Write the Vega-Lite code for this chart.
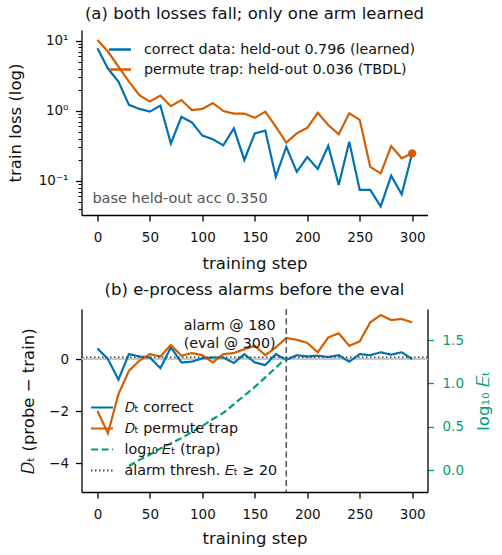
{
  "$schema": "https://vega.github.io/schema/vega-lite/v6.json",
  "background": "white",
  "padding": {"left": 7.5, "top": 5, "right": 5, "bottom": 5},
  "config": {
    "font": "DejaVu Sans",
    "view": {"stroke": null},
    "axis": {
      "grid": false, "domainColor": "#000", "domainWidth": 1.3,
      "tickColor": "#000", "tickWidth": 1.3, "tickSize": 6,
      "labelFont": "DejaVu Sans", "labelFontSize": 13.5, "labelColor": "#111",
      "labelFlush": false, "labelOverlap": false,
      "titleFont": "DejaVu Sans", "titleFontSize": 16.5, "titleFontWeight": "normal", "titleColor": "#111"
    },
    "title": {"font": "DejaVu Sans", "fontSize": 16.5, "fontWeight": "normal", "color": "#111", "anchor": "middle"},
    "legend": {"labelFont": "DejaVu Sans", "labelFontSize": 14.3, "labelColor": "#111", "padding": 0, "labelLimit": 400}
  },
  "spacing": 9,
  "resolve": {"scale": {"color": "independent", "strokeDash": "independent"}},
  "vconcat": [
    {
      "width": 346,
      "height": 185,
      "title": {"text": "(a) both losses fall; only one arm learned", "offset": 8},
      "data": {"values": [
        {"step": 0, "run": "c", "loss": 7.8}, {"step": 10, "run": "c", "loss": 4.0}, {"step": 20, "run": "c", "loss": 2.6},
        {"step": 30, "run": "c", "loss": 1.21}, {"step": 40, "run": "c", "loss": 1.06}, {"step": 50, "run": "c", "loss": 0.97},
        {"step": 60, "run": "c", "loss": 1.18}, {"step": 70, "run": "c", "loss": 0.34}, {"step": 80, "run": "c", "loss": 0.82},
        {"step": 90, "run": "c", "loss": 0.68}, {"step": 100, "run": "c", "loss": 0.44}, {"step": 110, "run": "c", "loss": 0.39},
        {"step": 120, "run": "c", "loss": 0.32}, {"step": 130, "run": "c", "loss": 0.56}, {"step": 140, "run": "c", "loss": 0.198},
        {"step": 150, "run": "c", "loss": 0.475}, {"step": 160, "run": "c", "loss": 0.52}, {"step": 170, "run": "c", "loss": 0.114},
        {"step": 180, "run": "c", "loss": 0.306}, {"step": 190, "run": "c", "loss": 0.134}, {"step": 200, "run": "c", "loss": 0.218},
        {"step": 210, "run": "c", "loss": 0.147}, {"step": 220, "run": "c", "loss": 0.316}, {"step": 230, "run": "c", "loss": 0.087},
        {"step": 240, "run": "c", "loss": 0.36}, {"step": 250, "run": "c", "loss": 0.074}, {"step": 260, "run": "c", "loss": 0.074},
        {"step": 270, "run": "c", "loss": 0.043}, {"step": 280, "run": "c", "loss": 0.118}, {"step": 290, "run": "c", "loss": 0.064},
        {"step": 300, "run": "c", "loss": 0.246},
        {"step": 0, "run": "t", "loss": 10.2}, {"step": 10, "run": "t", "loss": 7.0}, {"step": 20, "run": "t", "loss": 4.25},
        {"step": 30, "run": "t", "loss": 2.6}, {"step": 40, "run": "t", "loss": 1.67}, {"step": 50, "run": "t", "loss": 1.35},
        {"step": 60, "run": "t", "loss": 1.64}, {"step": 70, "run": "t", "loss": 1.16}, {"step": 80, "run": "t", "loss": 1.42},
        {"step": 90, "run": "t", "loss": 1.02}, {"step": 100, "run": "t", "loss": 1.06}, {"step": 110, "run": "t", "loss": 1.29},
        {"step": 120, "run": "t", "loss": 0.99}, {"step": 130, "run": "t", "loss": 0.91}, {"step": 140, "run": "t", "loss": 0.91},
        {"step": 150, "run": "t", "loss": 0.79}, {"step": 160, "run": "t", "loss": 0.97}, {"step": 170, "run": "t", "loss": 0.59},
        {"step": 180, "run": "t", "loss": 0.35}, {"step": 190, "run": "t", "loss": 0.475}, {"step": 200, "run": "t", "loss": 0.57},
        {"step": 210, "run": "t", "loss": 0.93}, {"step": 220, "run": "t", "loss": 0.625}, {"step": 230, "run": "t", "loss": 0.46},
        {"step": 240, "run": "t", "loss": 0.92}, {"step": 250, "run": "t", "loss": 0.74}, {"step": 260, "run": "t", "loss": 0.158},
        {"step": 270, "run": "t", "loss": 0.127}, {"step": 280, "run": "t", "loss": 0.313}, {"step": 290, "run": "t", "loss": 0.209},
        {"step": 300, "run": "t", "loss": 0.246}
      ]},
      "layer": [
        {
          "mark": {"type": "line", "strokeWidth": 2.2},
          "encoding": {
            "x": {"field": "step", "type": "quantitative",
                  "scale": {"domain": [-15.2, 314.6], "nice": false, "zero": false},
                  "axis": {"values": [0, 50, 100, 150, 200, 250, 300], "title": "training step", "labelPadding": 9, "titlePadding": 12}},
            "y": {"field": "loss", "type": "quantitative",
                  "scale": {"type": "log", "domain": [0.0324, 14.2], "nice": false},
                  "axis": {
                    "values": [0.04, 0.05, 0.06, 0.07, 0.08, 0.09, 0.1, 0.2, 0.3, 0.4, 0.5, 0.6, 0.7, 0.8, 0.9, 1, 2, 3, 4, 5, 6, 7, 8, 9, 10],
                    "labelExpr": "datum.value == 10 ? '10¹' : datum.value == 1 ? '10⁰' : datum.value == 0.1 ? '10⁻¹' : ''",
                    "tickSize": {"condition": {"test": "datum.value == 10 || datum.value == 1 || datum.value == 0.1", "value": 6}, "value": 3.5},
                    "tickWidth": {"condition": {"test": "datum.value == 10 || datum.value == 1 || datum.value == 0.1", "value": 1.3}, "value": 1},
                    "labelPadding": 7.5,
                    "title": "train loss (log)", "titlePadding": 14.5
                  }},
            "color": {"field": "run", "type": "nominal",
                      "scale": {"domain": ["c", "t"], "range": ["#0072B2", "#D55E00"]},
                      "legend": {
                        "orient": "none", "legendX": 26, "legendY": 7, "title": null,
                        "symbolType": "stroke", "symbolSize": 484, "symbolStrokeWidth": 2.5,
                        "labelOffset": 11.5, "rowPadding": -3,
                        "labelExpr": "datum.value == 'c' ? 'correct data: held-out 0.796 (learned)' : 'permute trap: held-out 0.036 (TBDL)'"
                      }}
          }
        },
        {
          "transform": [{"filter": "datum.run == 't' && datum.step == 300"}],
          "mark": {"type": "circle", "size": 70, "color": "#D55E00", "opacity": 1},
          "encoding": {
            "x": {"field": "step", "type": "quantitative"},
            "y": {"field": "loss", "type": "quantitative"}
          }
        },
        {
          "data": {"values": [{}]},
          "mark": {"type": "text", "align": "left", "baseline": "middle", "fontSize": 14.5, "color": "#555555"},
          "encoding": {
            "x": {"datum": -4.8, "type": "quantitative"},
            "y": {"datum": 0.0548, "type": "quantitative"},
            "text": {"value": "base held-out acc 0.350"}
          }
        }
      ]
    },
    {
      "width": 346,
      "height": 183,
      "title": {"text": "(b) e-process alarms before the eval", "offset": 10},
      "data": {"values": [
        {"step": 0, "series": "c", "D": 0.41}, {"step": 10, "series": "c", "D": 0.0}, {"step": 20, "series": "c", "D": -0.79},
        {"step": 30, "series": "c", "D": 0.19}, {"step": 40, "series": "c", "D": 0.10}, {"step": 50, "series": "c", "D": 0.06},
        {"step": 60, "series": "c", "D": -0.35}, {"step": 70, "series": "c", "D": 0.45}, {"step": 80, "series": "c", "D": -0.13},
        {"step": 90, "series": "c", "D": -0.10}, {"step": 100, "series": "c", "D": 0.03}, {"step": 110, "series": "c", "D": 0.06},
        {"step": 120, "series": "c", "D": 0.06}, {"step": 130, "series": "c", "D": -0.15}, {"step": 140, "series": "c", "D": 0.19},
        {"step": 150, "series": "c", "D": -0.13}, {"step": 160, "series": "c", "D": -0.23}, {"step": 170, "series": "c", "D": 0.19},
        {"step": 180, "series": "c", "D": -0.03}, {"step": 190, "series": "c", "D": 0.15}, {"step": 200, "series": "c", "D": 0.10},
        {"step": 210, "series": "c", "D": 0.13}, {"step": 220, "series": "c", "D": 0.08}, {"step": 230, "series": "c", "D": 0.15},
        {"step": 240, "series": "c", "D": -0.10}, {"step": 250, "series": "c", "D": 0.19}, {"step": 260, "series": "c", "D": 0.15},
        {"step": 270, "series": "c", "D": 0.26}, {"step": 280, "series": "c", "D": 0.17}, {"step": 290, "series": "c", "D": 0.26},
        {"step": 300, "series": "c", "D": 0.0},
        {"step": 0, "series": "t", "D": -1.99}, {"step": 10, "series": "t", "D": -2.85}, {"step": 20, "series": "t", "D": -1.35},
        {"step": 30, "series": "t", "D": -0.45}, {"step": 40, "series": "t", "D": -0.06}, {"step": 50, "series": "t", "D": 0.19},
        {"step": 60, "series": "t", "D": 0.10}, {"step": 70, "series": "t", "D": 0.54}, {"step": 80, "series": "t", "D": 0.13},
        {"step": 90, "series": "t", "D": 0.23}, {"step": 100, "series": "t", "D": 0.15}, {"step": 110, "series": "t", "D": -0.13},
        {"step": 120, "series": "t", "D": 0.19}, {"step": 130, "series": "t", "D": 0.23}, {"step": 140, "series": "t", "D": 0.38},
        {"step": 150, "series": "t", "D": 0.51}, {"step": 160, "series": "t", "D": 0.15}, {"step": 170, "series": "t", "D": 0.45},
        {"step": 180, "series": "t", "D": 0.81}, {"step": 190, "series": "t", "D": 0.74}, {"step": 200, "series": "t", "D": 0.62},
        {"step": 210, "series": "t", "D": 0.26}, {"step": 220, "series": "t", "D": 0.83}, {"step": 230, "series": "t", "D": 0.99},
        {"step": 240, "series": "t", "D": 0.51}, {"step": 250, "series": "t", "D": 0.68}, {"step": 260, "series": "t", "D": 1.41},
        {"step": 270, "series": "t", "D": 1.69}, {"step": 280, "series": "t", "D": 1.50}, {"step": 290, "series": "t", "D": 1.54},
        {"step": 300, "series": "t", "D": 1.41},
        {"step": 30, "series": "e", "logE": 0.05}, {"step": 40, "series": "e", "logE": 0.12}, {"step": 50, "series": "e", "logE": 0.18},
        {"step": 60, "series": "e", "logE": 0.25}, {"step": 70, "series": "e", "logE": 0.31}, {"step": 80, "series": "e", "logE": 0.37},
        {"step": 90, "series": "e", "logE": 0.44}, {"step": 100, "series": "e", "logE": 0.51}, {"step": 110, "series": "e", "logE": 0.59},
        {"step": 120, "series": "e", "logE": 0.66}, {"step": 130, "series": "e", "logE": 0.76}, {"step": 140, "series": "e", "logE": 0.86},
        {"step": 150, "series": "e", "logE": 0.96}, {"step": 160, "series": "e", "logE": 1.07}, {"step": 170, "series": "e", "logE": 1.18},
        {"step": 180, "series": "e", "logE": 1.30},
        {"series": "a", "logE": 1.30103}
      ]},
      "resolve": {"scale": {"y": "independent"}},
      "layer": [
        {
          "layer": [
            {
              "data": {"values": [{}]},
              "mark": {"type": "rule", "color": "#c8c8c8", "strokeWidth": 2},
              "encoding": {"y": {"datum": 0, "type": "quantitative"}}
            },
            {
              "transform": [{"filter": "datum.series == 'c' || datum.series == 't'"}],
              "mark": {"type": "line", "strokeWidth": 2.2},
              "encoding": {
                "x": {"field": "step", "type": "quantitative",
                      "scale": {"domain": [-15.2, 314.6], "nice": false, "zero": false},
                      "axis": {"values": [0, 50, 100, 150, 200, 250, 300], "title": "training step", "labelPadding": 9, "titlePadding": 10}},
                "y": {"field": "D", "type": "quantitative",
                      "scale": {"domain": [-5.104, 1.923], "nice": false, "zero": false},
                      "axis": {"values": [-4, -2, 0], "title": "𝐷ₜ (probe − train)", "labelPadding": 7, "titlePadding": 12}},
                "color": {"field": "series", "type": "nominal",
                          "scale": {"domain": ["c", "t", "e", "a"], "range": ["#0072B2", "#D55E00", "#009E73", "#444444"]},
                          "legend": {
                            "orient": "none", "legendX": 8, "legendY": 86, "title": null,
                            "symbolType": "stroke", "symbolSize": 484, "symbolStrokeWidth": 2.2,
                            "labelOffset": 10, "rowPadding": 1,
                            "labelExpr": "datum.value == 'c' ? '𝐷ₜ correct' : datum.value == 't' ? '𝐷ₜ permute trap' : datum.value == 'e' ? 'log₁₀ 𝐸ₜ (trap)' : 'alarm thresh. 𝐸ₜ ≥ 20'"
                          }},
                "strokeDash": {"field": "series", "type": "nominal",
                               "scale": {"domain": ["c", "t", "e", "a"], "range": [[1, 0], [1, 0], [7, 3.5], [1.5, 2.5]]},
                               "legend": {
                                 "orient": "none", "legendX": 8, "legendY": 86, "title": null,
                                 "symbolType": "stroke", "symbolSize": 484, "symbolStrokeWidth": 2.2,
                                 "labelOffset": 10, "rowPadding": 1,
                                 "labelExpr": "datum.value == 'c' ? '𝐷ₜ correct' : datum.value == 't' ? '𝐷ₜ permute trap' : datum.value == 'e' ? 'log₁₀ 𝐸ₜ (trap)' : 'alarm thresh. 𝐸ₜ ≥ 20'"
                               }}
              }
            },
            {
              "data": {"values": [{}]},
              "mark": {"type": "rule", "color": "#555555", "strokeWidth": 1.5, "strokeDash": [6, 3.5]},
              "encoding": {"x": {"datum": 180, "type": "quantitative"}}
            },
            {
              "data": {"values": [{}]},
              "mark": {"type": "text", "align": "center", "baseline": "middle", "fontSize": 14.3, "lineHeight": 18.3, "color": "#111"},
              "encoding": {
                "x": {"datum": 126, "type": "quantitative"},
                "y": {"datum": 1.28, "type": "quantitative"},
                "text": {"value": ["alarm @ 180", "(eval @ 300)"]}
              }
            }
          ]
        },
        {
          "layer": [
            {
              "transform": [{"filter": "datum.series == 'e'"}],
              "mark": {"type": "line", "strokeWidth": 2.2},
              "encoding": {
                "x": {"field": "step", "type": "quantitative"},
                "y": {"field": "logE", "type": "quantitative",
                      "scale": {"domain": [-0.25, 1.857], "nice": false, "zero": false},
                      "axis": {"orient": "right", "values": [0, 0.5, 1, 1.5], "format": ".1f",
                               "title": "log₁₀ 𝐸ₜ", "titleAngle": 270, "titleBaseline": "top", "titlePadding": 12,
                               "labelColor": "#009E73", "tickColor": "#009E73", "titleColor": "#009E73", "labelPadding": 8.5}},
                "color": {"field": "series", "type": "nominal"},
                "strokeDash": {"field": "series", "type": "nominal"}
              }
            },
            {
              "transform": [{"filter": "datum.series == 'a'"}],
              "mark": {"type": "rule", "strokeWidth": 1.6},
              "encoding": {
                "y": {"field": "logE", "type": "quantitative"},
                "color": {"field": "series", "type": "nominal"},
                "strokeDash": {"field": "series", "type": "nominal"}
              }
            }
          ]
        }
      ]
    }
  ]
}
